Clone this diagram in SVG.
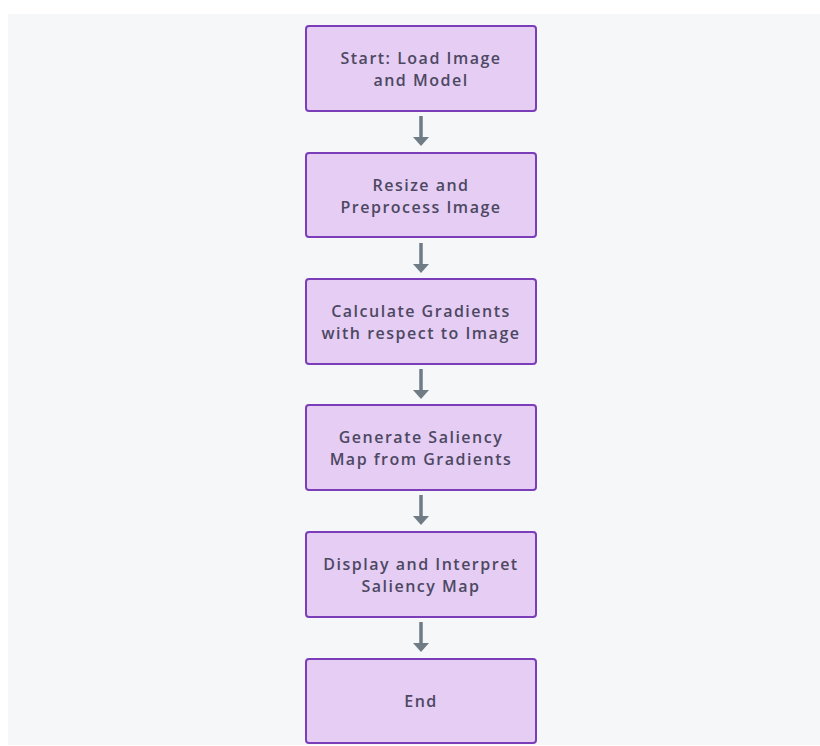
<svg xmlns="http://www.w3.org/2000/svg" width="820" height="746" viewBox="0 0 820 746">
<defs>
<style>
.box{fill:#e5cdf4;stroke:#7c3eb8;stroke-width:2}
.lbl{font-family:"Open Sans",Lato,sans-serif;font-size:16px;font-weight:600;fill:#4d4862;text-anchor:middle;letter-spacing:1.5px}
.edge{stroke:#6f7c86;stroke-width:3.5;fill:none}
.head{fill:#6f7c86}
</style>
</defs>
<rect x="0" y="0" width="820" height="746" fill="#ffffff"/>
<rect x="8" y="14" width="812" height="731" fill="#f6f7f9"/>
<g id="connectors">
<line class="edge" x1="421" y1="116" x2="421" y2="139"/><polygon class="head" points="413,137 429,137 421,146"/>
<line class="edge" x1="421" y1="243" x2="421" y2="266"/><polygon class="head" points="413,264 429,264 421,273"/>
<line class="edge" x1="421" y1="369" x2="421" y2="392"/><polygon class="head" points="413,390 429,390 421,399"/>
<line class="edge" x1="421" y1="495" x2="421" y2="518"/><polygon class="head" points="413,516 429,516 421,525"/>
<line class="edge" x1="421" y1="622" x2="421" y2="645"/><polygon class="head" points="413,643 429,643 421,652"/>
</g>
<g id="n1"><rect class="box" x="306" y="26" width="230" height="85" rx="3"/><text class="lbl" x="421" y="64">Start: Load Image</text><text class="lbl" x="421" y="86">and Model</text></g>
<g id="n2"><rect class="box" x="306" y="153" width="230" height="84" rx="3"/><text class="lbl" x="421" y="191">Resize and</text><text class="lbl" x="421" y="213">Preprocess Image</text></g>
<g id="n3"><rect class="box" x="306" y="279" width="230" height="85" rx="3"/><text class="lbl" x="421" y="317">Calculate Gradients</text><text class="lbl" x="421" y="339">with respect to Image</text></g>
<g id="n4"><rect class="box" x="306" y="405" width="230" height="85" rx="3"/><text class="lbl" x="421" y="443">Generate Saliency</text><text class="lbl" x="421" y="465">Map from Gradients</text></g>
<g id="n5"><rect class="box" x="306" y="532" width="230" height="85" rx="3"/><text class="lbl" x="421" y="570">Display and Interpret</text><text class="lbl" x="421" y="592">Saliency Map</text></g>
<g id="n6"><rect class="box" x="306" y="659" width="230" height="84" rx="3"/><text class="lbl" x="421" y="707">End</text></g>
</svg>
